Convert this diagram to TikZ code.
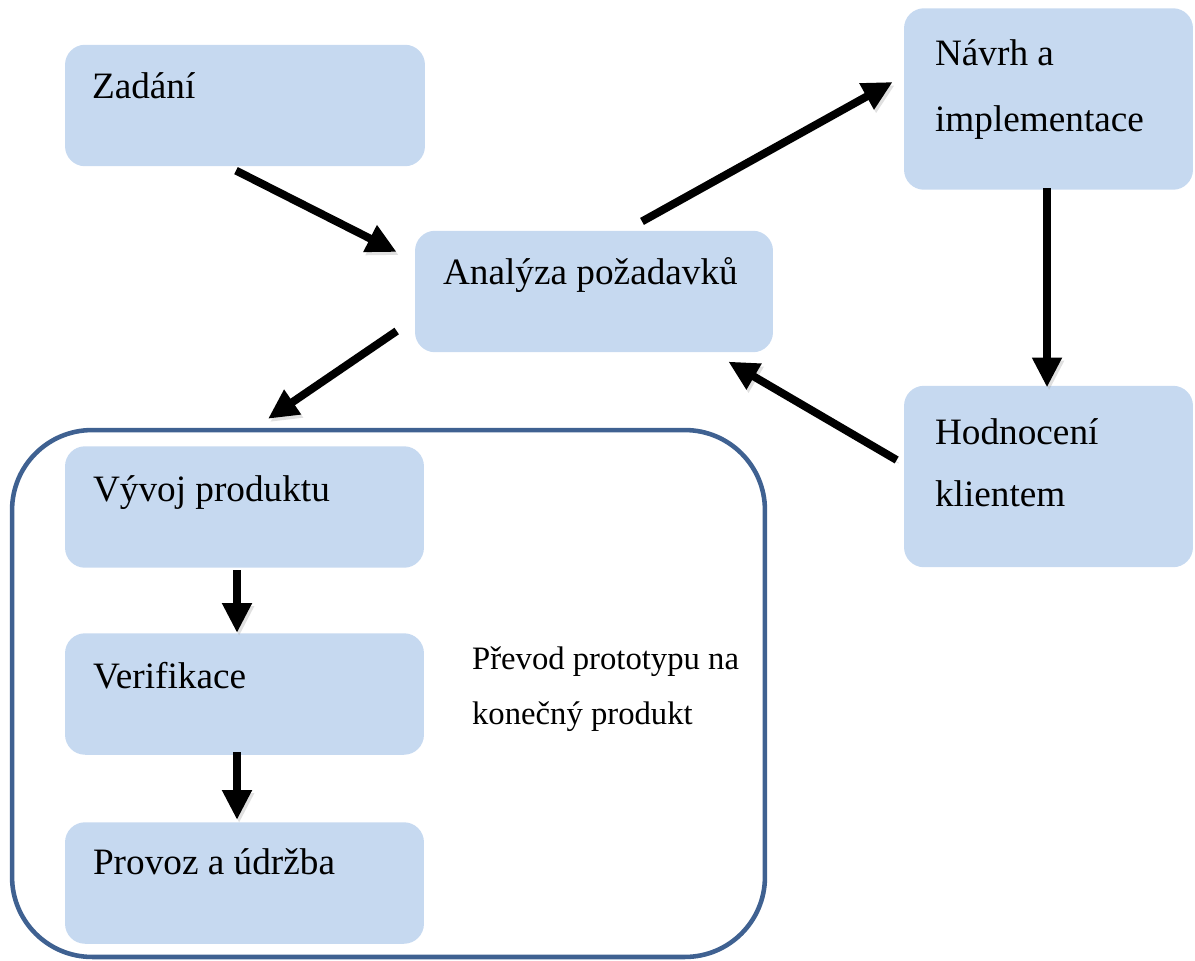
\documentclass[tikz,border=0pt]{standalone}
\usepackage{fontspec}
\setmainfont{Liberation Serif}
\usetikzlibrary{arrows.meta,calc}
\definecolor{boxfill}{HTML}{C6D9F0}
\definecolor{frameblue}{HTML}{3F6191}
\begin{document}
\begin{tikzpicture}[x=0.02cm,y=-0.02cm,
  stage/.style={fill=boxfill, draw=none, rounded corners=0.4cm, inner sep=0pt,
    minimum width=7.2cm, minimum height=2.43cm},
  sidestage/.style={stage, minimum width=5.78cm, minimum height=3.63cm},
  phase/.style={draw=frameblue, line width=2.6pt, rounded corners=1.6cm, inner sep=0pt,
    minimum width=15.06cm, minimum height=10.54cm},
  label/.style={anchor=base west, inner sep=0pt, font=\fontsize{21.2}{25}\selectfont},
  note/.style={anchor=base west, inner sep=0pt, font=\fontsize{18.6}{22}\selectfont},
  flow/.style={line width=4.5pt, -{Triangle[length=17pt,width=16pt]},
    preaction={draw=black!35, opacity=0.35, transform canvas={shift={(1.2pt,-1.8pt)}}}}]
  \useasboundingbox (0,0) rectangle (1195,960);

  % outer phase frame
  \node[phase] (phase) at (388.5,693.5) {};

  % process boxes
  \node[stage] (zad) at (245,105.5) {};
  \node[stage, minimum width=7.16cm] (ana) at (594,291.5) {};
  \node[sidestage] (nav) at (1048.5,99) {};
  \node[sidestage] (hod) at (1048.5,476.5) {};
  \node[stage, minimum width=7.18cm] (vyv) at (244.5,507) {};
  \node[stage, minimum width=7.18cm] (ver) at (244.5,694) {};
  \node[stage, minimum width=7.18cm] (pro) at (244.5,883) {};

  % box captions
  \node[label] at ($(zad.north west)+(27,54)$) {Zadání};
  \node[label] at ($(ana.north west)+(28,54)$) {Analýza požadavků};
  \node[label] at ($(nav.north west)+(31,58)$) {Návrh a};
  \node[label] at ($(nav.north west)+(31,124)$) {implementace};
  \node[label] at ($(hod.north west)+(31,59)$) {Hodnocení};
  \node[label] at ($(hod.north west)+(31,121)$) {klientem};
  \node[label] at ($(vyv.north west)+(28,56)$) {Vývoj produktu};
  \node[label] at ($(ver.north west)+(28,56)$) {Verifikace};
  \node[label] at ($(pro.north west)+(28,53)$) {Provoz a údržba};

  % note inside the frame
  \node[note] at ($(phase.north west)+(462,242)$) {Převod prototypu na};
  \node[note] at ($(phase.north west)+(462,297)$) {konečný produkt};

  % connectors
  \draw[flow] ($(zad.south)+(-9,4)$) -- ($(ana.west)+(-18,-39.5)$);
  \draw[flow] ($(ana.west)+(-18,39.5)$) -- ($(phase.north)+(-120.5,-9)$);
  \draw[flow] ($(ana.north)+(48,-9)$) -- ($(nav.west)+(-11,-17)$);
  \draw[flow] ($(nav.south)+(-1.5,-2)$) -- ($(hod.north)+(-1.5,2)$);
  \draw[flow] ($(hod.west)+(-7,-16.5)$) -- ($(ana.south east)+(-45,9)$);
  \draw[flow] ($(vyv.south)+(-7.5,2)$) -- ($(ver.north)+(-7.5,0)$);
  \draw[flow] ($(ver.south)+(-7.5,-3)$) -- ($(pro.north)+(-7.5,-2)$);
\end{tikzpicture}
\end{document}
